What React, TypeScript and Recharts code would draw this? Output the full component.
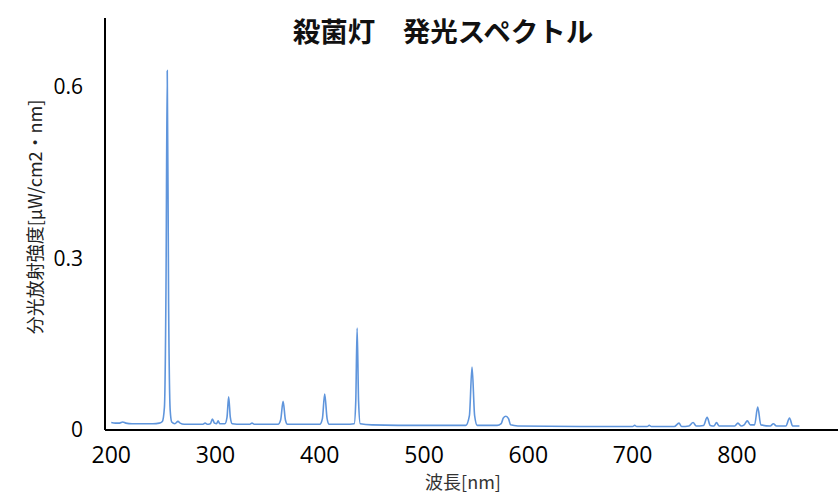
import React from 'react';
import { LineChart, Line, XAxis, YAxis } from 'recharts';

// Spectrum samples (nm -> µW/cm2·nm)
const wavelengths = [
  200, 204, 208, 211, 214, 220, 230, 240, 246, 249, 251, 252.5, 253.7, 255, 256.5, 258,
  261, 264, 266, 270, 280, 288, 290, 292, 295, 297, 299, 301, 302.5, 304, 309, 311,
  312.6, 314.2, 316, 325, 333, 335, 337, 350, 360, 362.5, 364.8, 367, 369, 385, 400,
  402.5, 404.7, 407, 409, 425, 433, 434.5, 435.8, 437.2, 438.8, 450, 500, 540, 543.5,
  546, 548.5, 551, 570, 574, 576, 578.5, 581, 583, 590, 650, 700, 702, 704, 714, 716,
  718, 740, 744.5, 747, 754, 758, 761, 768, 771.5, 774.5, 778, 780.5, 783, 798, 801,
  804, 807, 810, 813, 817, 820, 823, 832, 835, 838, 847, 850.5, 853.5, 860,
];
const intensity = [
  0.013, 0.012, 0.012, 0.014, 0.012, 0.011, 0.011, 0.011, 0.012, 0.015, 0.04, 0.25, 0.628, 0.22, 0.035, 0.014,
  0.011, 0.015, 0.012, 0.010, 0.010, 0.010, 0.012, 0.010, 0.011, 0.019, 0.012, 0.011, 0.016, 0.011, 0.011, 0.022,
  0.058, 0.022, 0.011, 0.010, 0.010, 0.012, 0.010, 0.010, 0.010, 0.018, 0.050, 0.018, 0.010, 0.010, 0.010,
  0.020, 0.063, 0.020, 0.010, 0.010, 0.011, 0.050, 0.178, 0.050, 0.011, 0.009, 0.008, 0.008, 0.025,
  0.110, 0.025, 0.008, 0.008, 0.011, 0.021, 0.024, 0.020, 0.009, 0.007, 0.006, 0.006, 0.008, 0.006, 0.006, 0.008,
  0.006, 0.006, 0.012, 0.006, 0.007, 0.013, 0.007, 0.008, 0.022, 0.008, 0.007, 0.013, 0.007, 0.007, 0.012,
  0.007, 0.009, 0.016, 0.009, 0.009, 0.040, 0.009, 0.007, 0.011, 0.007, 0.007, 0.021, 0.007, 0.007,
];
const xTicks = [200, 300, 400, 500, 600, 700, 800];
const yTicks = [0, 0.3, 0.6];

const title = '殺菌灯　発光スペクトル';
const xLabel = '波長[nm]';
const yLabel = '分光放射強度[μW/cm2・nm]';

const data = wavelengths.map((nm, i) => ({ nm, value: intensity[i] }));

const tickFont = { fill: '#000', fontSize: 23, fontFamily: '"Open Sans", sans-serif' };

export default function App() {
  return (
    <div style={{ position: 'absolute', left: 0, top: 0, width: 840, height: 499, background: '#fff' }}>
      <LineChart width={840} height={499} data={data} margin={{ top: 18, right: 2, left: 0, bottom: 0 }}>
        <XAxis
          type="number"
          dataKey="nm"
          domain={[194, 897]}
          ticks={xTicks}
          allowDataOverflow
          height={69}
          tickLine={false}
          tickMargin={11}
          axisLine={{ stroke: '#000', strokeWidth: 2 }}
          tick={tickFont}
        />
        <YAxis
          type="number"
          domain={[0, 0.72]}
          ticks={yTicks}
          width={105}
          tickLine={false}
          tickMargin={16}
          axisLine={{ stroke: '#000', strokeWidth: 2 }}
          tick={{ ...tickFont, fontSize: 21 }}
        />
        <Line
          type="monotone"
          dataKey="value"
          stroke="#5f95dc"
          strokeWidth={1.6}
          dot={false}
          isAnimationActive={false}
        />
      </LineChart>
      <div style={{ position: 'absolute', left: 0, width: 886, top: 12, textAlign: 'center', fontFamily: '"Noto Sans CJK JP", sans-serif', fontWeight: 700, fontSize: 27.5, lineHeight: '36px', color: '#111' }}>
        {title}
      </div>
      <div style={{ position: 'absolute', left: 363, width: 200, top: 468, textAlign: 'center', fontFamily: '"Noto Sans CJK JP", sans-serif', fontSize: 18, lineHeight: '26px', color: '#333' }}>
        {xLabel}
      </div>
      <div style={{ position: 'absolute', left: 34, top: 217, width: 0, height: 0 }}>
        <div style={{ position: 'absolute', left: -160, top: -13, width: 320, textAlign: 'center', transform: 'rotate(-90deg)', fontFamily: '"Noto Sans CJK JP", sans-serif', fontSize: 18, lineHeight: '26px', color: '#222', whiteSpace: 'nowrap' }}>
          {yLabel}
        </div>
      </div>
    </div>
  );
}
